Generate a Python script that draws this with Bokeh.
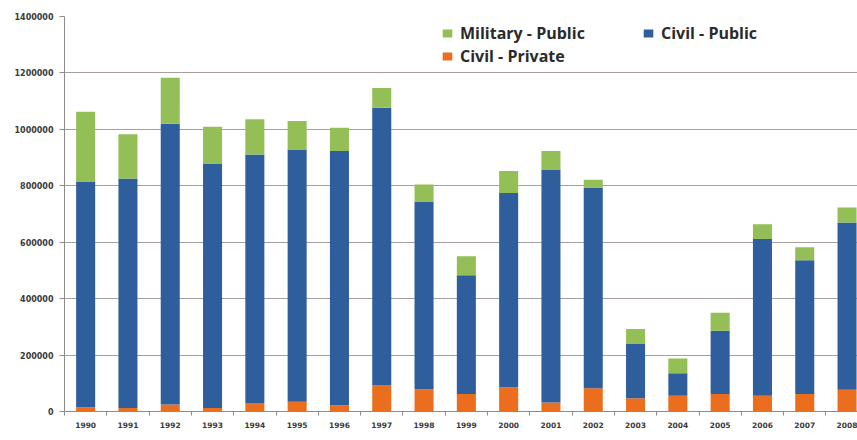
from bokeh.plotting import figure
from bokeh.models import (ColumnDataSource, Range1d, FixedTicker, Legend, LegendItem,
                          BasicTickFormatter)
from bokeh.embed import file_html
from bokeh.resources import INLINE

years = ["1990", "1991", "1992", "1993", "1994", "1995", "1996", "1997", "1998", "1999",
         "2000", "2001", "2002", "2003", "2004", "2005", "2006", "2007", "2008"]
civil_private = [15000, 12000, 25000, 12000, 30000, 35000, 22000, 92000, 79000, 62000,
                 86000, 32000, 82000, 47000, 56000, 62000, 56000, 62000, 77000]
civil_public = [800000, 814000, 995000, 867000, 881000, 894000, 901000, 985000, 665000, 421000,
                688000, 824000, 712000, 192000, 80000, 224000, 555000, 474000, 593000]
military_public = [247000, 157000, 163000, 130000, 125000, 101000, 83000, 70000, 61000, 67000,
                   78000, 67000, 27000, 53000, 52000, 64000, 53000, 46000, 53000]
y_ticks = [0, 200000, 400000, 600000, 800000, 1000000, 1200000, 1400000]

GREEN = "#93BF56"
BLUE = "#2E5E9C"
ORANGE = "#EB6E1F"

xs = list(range(len(years)))
src = ColumnDataSource(dict(x=xs, private=civil_private, public=civil_public,
                            military=military_public))

W, H = 857, 440
LEFT, TOP, BOTTOM = 64, 16, 29
cat_px = 42.3
frame_w = W - LEFT

p = figure(width=W, height=H, output_backend="svg", toolbar_location=None,
           x_range=Range1d(-0.5, -0.5 + frame_w / cat_px), y_range=Range1d(0, 1400000),
           min_border_left=LEFT, min_border_right=0, min_border_top=TOP,
           min_border_bottom=BOTTOM)
p.outline_line_color = None
p.background_fill_color = "white"
p.border_fill_color = "white"

rs = p.vbar_stack(["private", "public", "military"], x="x", width=0.45,
                  color=[ORANGE, BLUE, GREEN], line_color=None, source=src)

# axes
p.xgrid.grid_line_color = None
p.ygrid.grid_line_color = "#A89E9E"
p.ygrid.grid_line_width = 1
p.ygrid.ticker = FixedTicker(ticks=y_ticks)

p.yaxis.ticker = FixedTicker(ticks=y_ticks)
p.yaxis.formatter = BasicTickFormatter(use_scientific=False)
p.yaxis.axis_line_color = "#8C8C8C"
p.yaxis.major_tick_line_color = "#8C8C8C"
p.yaxis.major_tick_out = 5
p.yaxis.major_tick_in = 0
p.yaxis.minor_tick_line_color = None
p.yaxis.major_label_standoff = 6
p.yaxis.major_label_text_font = "DejaVu Sans"
p.yaxis.major_label_text_font_style = "bold"
p.yaxis.major_label_text_font_size = "8px"
p.yaxis.major_label_text_color = "#3A3A3A"

p.xaxis.ticker = FixedTicker(ticks=xs, minor_ticks=[i - 0.5 for i in xs] + [len(xs) - 0.5])
p.xaxis.major_label_overrides = {i: y for i, y in enumerate(years)}
p.xaxis.axis_line_color = "#8C8C8C"
p.xaxis.major_tick_line_color = None
p.xaxis.major_tick_out = 4
p.xaxis.major_tick_in = 0
p.xaxis.minor_tick_line_color = "#8C8C8C"
p.xaxis.minor_tick_out = 4
p.xaxis.minor_tick_in = 0
p.xaxis.major_label_standoff = 6
p.xaxis.major_label_text_font = "DejaVu Sans"
p.xaxis.major_label_text_font_style = "bold"
p.xaxis.major_label_text_font_size = "7.5px"
p.xaxis.major_label_text_color = "#3A3A3A"

def mk_legend(items, loc):
    lg = Legend(items=items, location=loc, orientation="vertical",
                label_text_font="Open Sans", label_text_font_style="bold",
                label_text_font_size="16px",
                label_text_color="#2A2A2A", glyph_width=12, glyph_height=10,
                label_standoff=7, spacing=1, padding=0, margin=0,
                border_line_color=None, background_fill_alpha=0)
    return lg

leg1 = mk_legend([LegendItem(label="Military - Public", renderers=[rs[2]]),
                  LegendItem(label="Civil - Private", renderers=[rs[0]])], (377, 344))
leg2 = mk_legend([LegendItem(label="Civil - Public", renderers=[rs[1]])], (578, 367))
p.add_layout(leg1, "center")
p.add_layout(leg2, "center")

open("out.html", "w").write(file_html(p, INLINE))
